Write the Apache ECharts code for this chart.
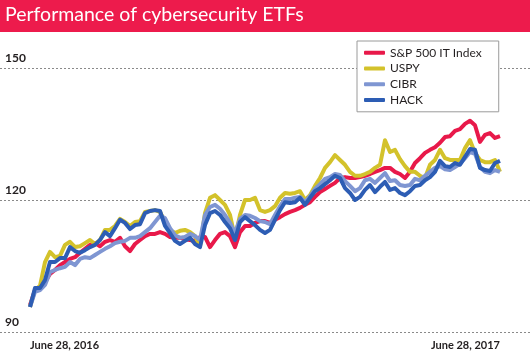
<!DOCTYPE html>
<html>
<head>
<meta charset="utf-8">
<script src="https://cdn.jsdelivr.net/npm/echarts@6/dist/echarts.min.js"></script>
<style>
html,body{margin:0;padding:0;background:#fff;}
#chart{width:530px;height:357px;}
</style>
</head>
<body>
<div id="chart"></div>
<script>
const titleText = 'Performance of cybersecurity ETFs';
const seriesNames = ['S&P 500 IT Index', 'USPY', 'CIBR', 'HACK'];
const tickLabels = ['June 28, 2016', 'June 28, 2017'];
const yTicks = [90, 120, 150];

const sp500IT = [96.1,99.5,100.0,101.4,103.2,104.1,105.2,105.9,106.6,107.0,108.0,108.9,109.8,110.2,109.5,110.5,110.9,110.5,111.4,109.5,108.4,110.0,110.9,111.8,112.3,112.3,112.7,112.3,111.6,111.4,111.4,111.1,110.9,110.7,111.6,111.6,109.3,110.9,112.3,112.7,111.8,109.3,112.7,114.1,114.1,114.8,115.2,115.2,114.8,115.5,116.1,116.8,117.3,117.7,118.2,118.9,119.5,120.7,121.8,122.5,123.2,123.9,125.0,125.2,125.0,125.0,125.2,125.5,125.9,126.4,126.8,127.3,127.3,126.4,125.9,125.0,126.4,128.4,129.5,130.7,131.4,132.0,133.0,134.3,134.5,135.7,136.1,137.3,138.0,137.0,133.2,134.8,135.2,134.1,134.5];
const uspy = [95.7,99.5,100.5,105.9,108.2,107.0,107.3,109.8,110.5,109.3,109.5,110.2,110.9,110.0,110.9,113.2,113.2,114.1,115.7,115.0,114.1,115.0,115.2,117.3,117.5,117.7,117.3,115.0,113.2,112.5,113.0,113.2,112.7,111.8,109.5,117.0,120.5,121.1,120.0,118.9,116.6,111.4,116.6,120.0,120.0,120.5,117.7,117.3,117.7,118.6,120.5,121.6,121.4,121.6,122.0,120.0,121.1,123.2,125.0,127.3,128.6,130.2,129.1,128.0,126.4,125.5,125.5,125.9,126.4,127.3,128.0,133.6,130.9,131.4,129.3,127.7,126.4,126.4,125.5,125.0,128.0,129.1,131.4,129.5,129.1,129.1,129.1,131.8,133.6,130.7,129.1,128.6,128.6,129.1,126.4];
const cibr = [95.7,99.1,99.5,100.7,103.6,104.1,104.5,104.8,105.9,105.2,106.6,107.0,106.8,107.5,108.2,108.9,109.5,110.2,110.5,110.7,111.4,111.4,111.8,112.7,113.6,115.0,116.4,115.9,113.6,112.0,111.4,111.6,112.3,111.8,110.9,116.6,118.4,118.9,118.0,116.6,114.8,112.5,115.7,116.6,116.4,115.9,115.2,115.0,114.5,116.6,118.6,120.2,120.2,120.5,120.7,119.5,120.9,122.5,123.6,124.8,125.2,125.9,125.7,124.3,123.2,122.0,122.7,124.5,124.8,123.9,125.0,126.1,124.3,124.5,123.4,123.2,123.4,124.8,124.5,125.5,126.4,127.3,127.7,127.0,126.8,127.5,128.2,129.5,130.9,130.5,127.5,126.4,126.1,126.8,126.4];
const hack = [95.7,100.0,100.0,101.8,105.9,105.9,106.8,106.8,109.3,108.4,108.0,108.6,109.3,109.8,110.9,112.7,111.8,113.6,115.5,114.8,113.4,114.3,114.5,117.0,117.5,117.7,117.5,114.1,112.5,110.7,110.0,110.7,111.4,110.0,109.3,114.3,117.0,117.5,116.6,115.0,113.6,110.9,115.0,116.1,115.2,114.3,113.2,112.5,113.2,115.5,117.7,119.5,119.3,119.5,120.5,118.9,120.5,122.0,122.7,123.6,124.5,125.5,125.0,122.7,121.6,120.0,120.7,122.3,123.4,121.8,123.0,124.1,122.3,122.7,121.6,121.1,122.0,123.2,123.4,124.5,125.2,126.4,128.9,127.7,127.5,128.4,128.0,129.8,131.6,131.4,127.3,126.8,126.6,128.4,128.9];

const colors = ['#E8194A', '#D3C22B', '#7F96D2', '#2D5DB4'];
const allSeries = [sp500IT, uspy, cibr, hack];
const lastIdx = hack.length - 1;
const textDark = '#231F20';
const fontFam = 'Lato, "Liberation Sans", sans-serif';

const chart = echarts.init(document.getElementById('chart'), null, {renderer: 'canvas'});
const option = {
  animation: false,
  backgroundColor: '#fff',
  graphic: [
    {type: 'rect', shape: {x: 0, y: 0, width: 530, height: 32}, style: {fill: '#ED1B4C'}, z: 10},
    {type: 'text', left: 5, top: 5, z: 11, style: {text: titleText, fill: '#fff', font: '400 19.5px Lato, sans-serif'}}
  ],
  legend: {
    orient: 'vertical',
    left: 357, top: 41,
    padding: [4, 17, 4, 7],
    itemGap: 0,
    itemWidth: 21, itemHeight: 4,
    icon: 'roundRect',
    borderColor: '#9a9a9a', borderWidth: 1,
    backgroundColor: '#fff',
    textStyle: {fontFamily: fontFam, fontSize: 12, color: textDark, lineHeight: 15.7},
    data: seriesNames
  },
  grid: [
    {left: 30, right: 30, top: 68, bottom: 25},
    {left: 0, right: 0, top: 68, bottom: 25}
  ],
  xAxis: [
    {type: 'value', gridIndex: 0, min: 0, max: lastIdx, interval: lastIdx,
     axisLine: {show: false}, axisTick: {show: false}, splitLine: {show: false},
     axisLabel: {margin: 8, fontFamily: fontFam, fontWeight: 'bold', fontSize: 11, color: textDark,
       alignMinLabel: 'left', alignMaxLabel: 'right',
       formatter: function (v) { return v === 0 ? tickLabels[0] : (v === lastIdx ? tickLabels[1] : ''); }}},
    {type: 'value', gridIndex: 1, min: 0, max: 1, show: false}
  ],
  yAxis: [
    {type: 'value', gridIndex: 0, min: yTicks[0], max: yTicks[2], show: false},
    {type: 'value', gridIndex: 1, min: yTicks[0], max: yTicks[2], interval: 30,
     axisLine: {show: false}, axisTick: {show: false},
     splitLine: {show: true, lineStyle: {color: '#8a8a8a', type: [2, 2], width: 1}},
     axisLabel: {inside: true, margin: 5, verticalAlign: 'bottom', padding: [0, 0, 4, 0],
       fontFamily: fontFam, fontWeight: 'bold', fontSize: 12, color: textDark}}
  ],
  series: seriesNames.map(function (name, k) {
    return {
      name: name, type: 'line', xAxisIndex: 0, yAxisIndex: 0,
      showSymbol: false, symbol: 'none',
      color: colors[k],
      lineStyle: {width: 4, color: colors[k], join: 'round'},
      data: allSeries[k].map(function (v, i) { return [i, v]; }),
      z: 2 + k
    };
  })
};
chart.setOption(option);
</script>
</body>
</html>
